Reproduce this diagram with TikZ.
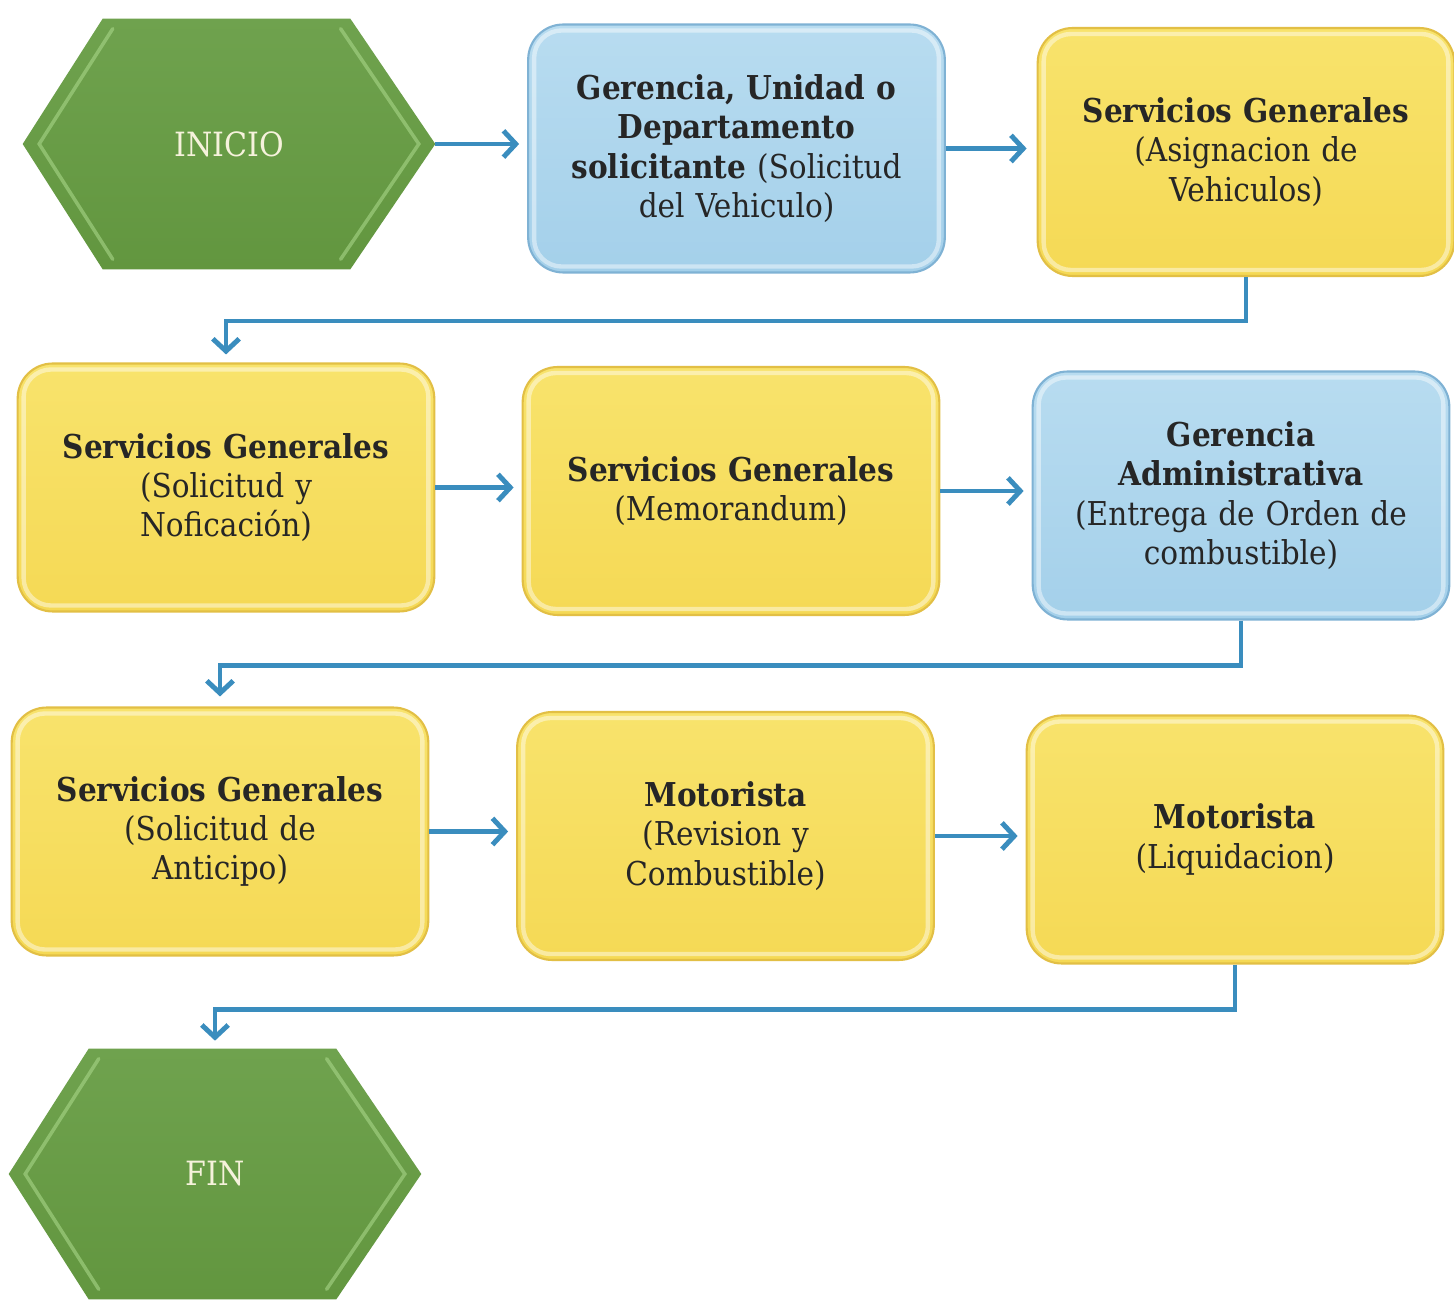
\documentclass[tikz,border=0pt]{standalone}
\usepackage{fontspec}
\setmainfont{DejaVu Serif Condensed}
\usetikzlibrary{arrows.meta,calc,backgrounds}

\definecolor{ylw}{HTML}{F5D955}
\definecolor{ylwtop}{HTML}{F8E36C}
\definecolor{ylwedge}{HTML}{E2BF45}
\definecolor{blu}{HTML}{A4D0EA}
\definecolor{blutop}{HTML}{B8DCF0}
\definecolor{bluedge}{HTML}{7FB2D4}
\definecolor{grn}{HTML}{62963F}
\definecolor{grntop}{HTML}{6FA24E}
\definecolor{grnlt}{HTML}{A8D688}
\definecolor{flow}{HTML}{3A8DBE}
\definecolor{ink}{HTML}{262626}
\definecolor{cream}{HTML}{F6F2DC}

% hexagon drawn around a node: #1 node, #2 inset fraction, #3 path options
\newcommand\hexshape[3]{%
  \path[#3]
    ($(#1.center)!#2!(#1.west)$) --
    ($(#1.center)!#2!([xshift=1.6cm]#1.north west)$) --
    ($(#1.center)!#2!([xshift=-1.7cm]#1.north east)$) --
    ($(#1.center)!#2!(#1.east)$) --
    ($(#1.center)!#2!([xshift=-1.7cm]#1.south east)$) --
    ($(#1.center)!#2!([xshift=1.6cm]#1.south west)$) -- cycle;}
% slanted bevel edges of a hexagon: #1 node, #2 inset fraction, #3 path options
\newcommand\hexbevel[3]{%
  \path[#3]
    ($(#1.center)!#2!([xshift=1.6cm]#1.south west)$) --
    ($(#1.center)!#2!(#1.west)$) --
    ($(#1.center)!#2!([xshift=1.6cm]#1.north west)$)
    ($(#1.center)!#2!([xshift=-1.7cm]#1.north east)$) --
    ($(#1.center)!#2!(#1.east)$) --
    ($(#1.center)!#2!([xshift=-1.7cm]#1.south east)$);}

\begin{document}
\begin{tikzpicture}[x=0.02cm,y=-0.02cm,
  stage/.style={rounded corners=0.7cm, minimum width=8.26cm, minimum height=4.96cm,
    text width=8.1cm, align=center, font=\fontsize{18.7}{22.3}\selectfont, text=ink,
    line width=1.2pt},
  ybox/.style={stage, draw=ylwedge, top color=ylwtop, bottom color=ylw},
  bbox/.style={stage, draw=bluedge, top color=blutop, bottom color=blu},
  term/.style={minimum width=8.24cm, minimum height=5cm, inner sep=0pt,
    font=\fontsize{19}{22}\selectfont, text=cream},
  bevel/.style={draw=white, opacity=0.45, line width=2.5pt, rounded corners=0.55cm},
  flowline/.style={draw=flow, line width=2.8pt, line join=miter,
    -{Straight Barb[length=7pt,width=15pt]}},
]
\useasboundingbox (0,0) rectangle (1454,1310);

% terminals
\node[term] (ini) at (229,144) {INICIO};
\node[term] (fin) at (215,1174) {FIN};

% stages
\node[bbox] (b1) at (736.5,148.5) {\textbf{Gerencia, Unidad o}\\\textbf{Departamento}\\\textbf{solicitante} (Solicitud\\del Vehiculo)};
\node[ybox] (b2) at (1246,152) {\textbf{Servicios Generales}\\(Asignacion de\\Vehiculos)};
\node[ybox] (b3) at (226,487.5) {\textbf{Servicios Generales}\\(Solicitud y\\Noficación)};
\node[ybox] (b4) at (731,491) {\textbf{Servicios Generales}\\(Memorandum)};
\node[bbox] (b5) at (1241,495.5) {\textbf{Gerencia}\\\textbf{Administrativa}\\(Entrega de Orden de\\combustible)};
\node[ybox] (b6) at (220,831.5) {\textbf{Servicios Generales}\\(Solicitud de\\Anticipo)};
\node[ybox] (b7) at (725.5,836) {\textbf{Motorista}\\(Revision y\\Combustible)};
\node[ybox] (b8) at (1235,839.5) {\textbf{Motorista}\\(Liquidacion)};

% bevel highlight of the stages
\foreach \n in {b1,b2,b3,b4,b5,b6,b7,b8}
  \draw[bevel] ([shift={(0.14cm,-0.14cm)}]\n.north west) rectangle ([shift={(-0.14cm,0.14cm)}]\n.south east);

% page and hexagon bodies behind the terminal labels
\begin{scope}[on background layer]
  \fill[white] (0,0) rectangle (1454,1310);
  \foreach \n in {ini,fin}{
    \hexshape{\n}{1}{top color=grntop, bottom color=grn}
    \hexbevel{\n}{0.92}{draw=grnlt, opacity=0.6, line width=2pt, line cap=round}
  }
\end{scope}

% flow
\draw[flowline, shorten >=0.16cm] (ini.east) -- (ini.east -| b1.west);
\draw[flowline, shorten >=0.2cm] (b1.east) -- (b1.east -| b2.west);
\draw[flowline, shorten >=0.16cm] (b2.south) -- ++(0,44) -| (b3.north);
\draw[flowline, shorten >=0.16cm] (b3.east) -- (b3.east -| b4.west);
\draw[flowline, shorten >=0.16cm] (b4.east) -- (b4.east -| b5.west);
\draw[flowline, shorten >=0.2cm] (b5.south) -- ++(0,45) -| (b6.north);
\draw[flowline, shorten >=0.16cm] (b6.east) -- (b6.east -| b7.west);
\draw[flowline, shorten >=0.16cm] (b7.east) -- (b7.east -| b8.west);
\draw[flowline, shorten >=0.16cm] (b8.south) -- ++(0,45) -| (fin.north);
\end{tikzpicture}
\end{document}
